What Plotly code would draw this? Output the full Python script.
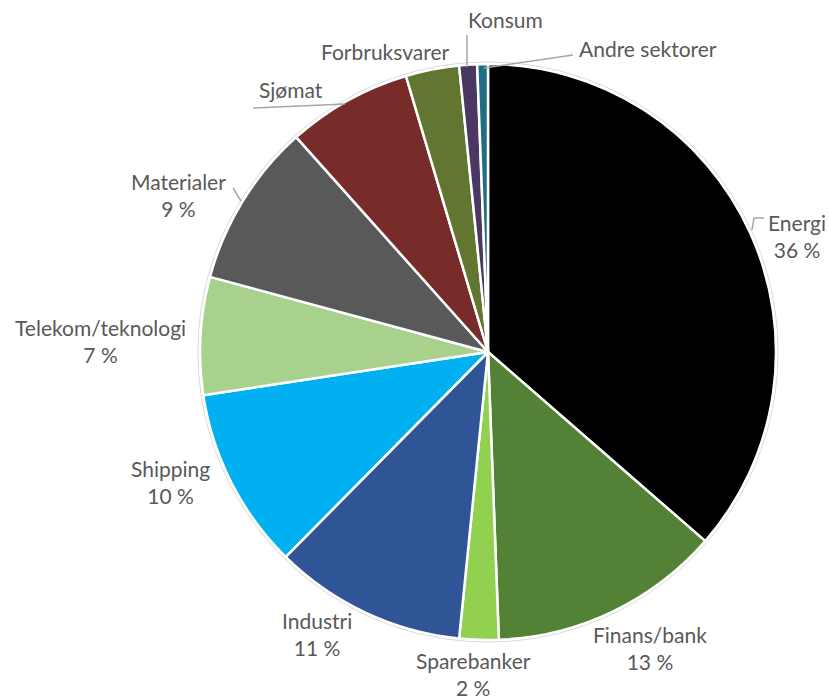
import plotly.graph_objects as go

W, H = 829, 699

sectors = ["Energi", "Finans/bank", "Sparebanker", "Industri", "Shipping",
           "Telekom/teknologi", "Materialer", "Sjømat", "Forbruksvarer",
           "Konsum", "Andre sektorer"]
shares = [36.4, 13.0, 2.2, 10.8, 10.2, 6.6, 9.2, 7.0, 3.0, 1.0, 0.6]
colors = ["#000000", "#538135", "#92D050", "#2F5597", "#00B0F0",
          "#A9D18E", "#595959", "#772C2A", "#607631", "#4B3862", "#1F6E84"]
show_pct = [True, True, True, True, True, True, True, False, False, False, False]

# label layout (pixel positions of label block centres)
label_pos = {
    "Energi": (797, 236), "Finans/bank": (650, 648), "Sparebanker": (473, 674),
    "Industri": (317, 634), "Shipping": (170, 482), "Telekom/teknologi": (100, 341),
    "Materialer": (178, 195), "Sjømat": (291, 90), "Forbruksvarer": (385, 52),
    "Konsum": (506, 20), "Andre sektorer": (648, 48),
}
leaders = [
    [(752, 230), (754, 218), (764, 218)],
    [(233, 188), (241, 201)],
    [(253, 108), (345, 104)],
    [(467, 35), (467, 67)],
    [(573, 55), (484, 68)],
]


def px(x, y):
    return x / W, 1 - y / H


cx, cy, r = 488, 352, 288
fig = go.Figure(go.Pie(
    labels=sectors, values=shares, sort=False, direction="clockwise",
    rotation=0, textinfo="none", hoverinfo="label+percent",
    marker=dict(colors=colors, line=dict(color="white", width=2.5)),
    domain=dict(x=[(cx - r) / W, (cx + r) / W], y=[1 - (cy + r) / H, 1 - (cy - r) / H]),
    showlegend=False,
))

font = dict(family="Lato, Open Sans, sans-serif", size=21, color="#595959")
anns = []
for name, v, sp in zip(sectors, shares, show_pct):
    x, y = px(*label_pos[name])
    text = f"{name}<br>{round(v)} %" if sp else name
    anns.append(dict(x=x, y=y, xref="paper", yref="paper", text=text, showarrow=False,
                     xanchor="center", yanchor="middle", font=font, align="center"))

shapes = []
for pts in leaders:
    path = "M " + " L ".join(f"{px(*p)[0]} {px(*p)[1]}" for p in pts)
    shapes.append(dict(type="path", xref="paper", yref="paper", path=path,
                       line=dict(color="#A6A6A6", width=1.5)))
# faint outline around the pie
x0, y1 = px(cx - r - 2, cy - r - 2)
x1, y0 = px(cx + r + 2, cy + r + 2)
shapes.append(dict(type="circle", xref="paper", yref="paper", x0=x0, x1=x1, y0=y0, y1=y1,
                   line=dict(color="#D9D9D9", width=1), layer="below"))

fig.update_layout(width=W, height=H, margin=dict(l=0, r=0, t=0, b=0),
                  paper_bgcolor="white", plot_bgcolor="white",
                  annotations=anns, shapes=shapes)
fig.write_html("out.html", config={"displayModeBar": False},
               post_script="document.body.style.margin='0';document.body.style.overflow='hidden';")
